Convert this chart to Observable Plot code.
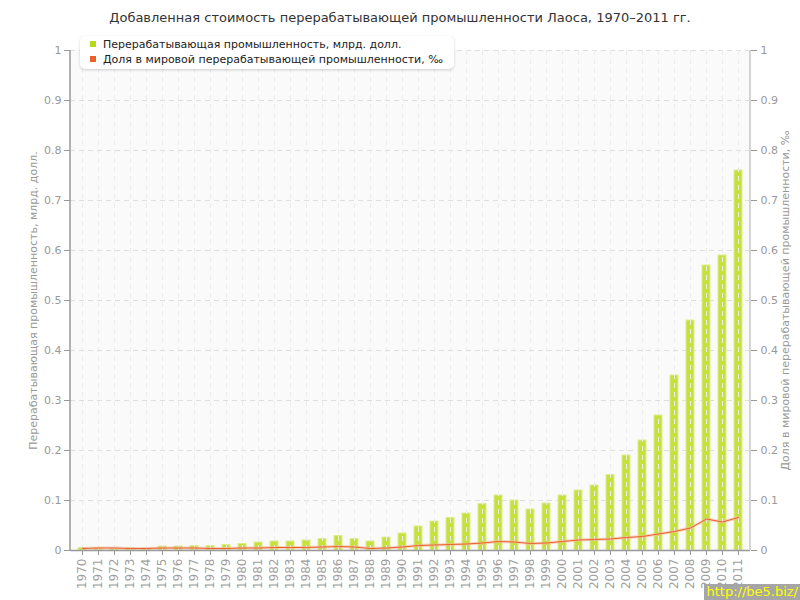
<!DOCTYPE html>
<html>
<head>
<meta charset="utf-8">
<script src="https://cdn.jsdelivr.net/npm/d3@7"></script>
<script src="https://cdn.jsdelivr.net/npm/@observablehq/plot@0.6"></script>
<style>
  html, body { margin: 0; padding: 0; background: #fff; }
  #wrap { position: relative; width: 800px; height: 600px; overflow: hidden; font-family: "DejaVu Sans", sans-serif; }
  #title { height: 36px; line-height: 36px; text-align: center; font-size: 13px; color: #333; }
  #legend { position: absolute; left: 80px; top: 36px; width: 374px; height: 33px; background: #fff;
    border-radius: 5px; box-shadow: 0 1px 3px rgba(0,0,0,0.18); font-size: 11px; color: #222; }
  #legend .item { position: absolute; left: 10px; white-space: nowrap; }
  #legend .sw { display: inline-block; width: 6px; height: 6px; margin-right: 7px; vertical-align: 1px; }
  #wm { position: absolute; right: 0; bottom: 0; background: #a6a6a6; color: #ffff00; font-size: 13px;
    padding: 0 2px; height: 16px; line-height: 16px; font-family: "DejaVu Sans", sans-serif; }
</style>
</head>
<body>
<div id="wrap">
  <div id="title">Добавленная стоимость перерабатывающей промышленности Лаоса, 1970–2011 гг.</div>
  <div id="chart"></div>
  <div id="legend">
    <div class="item" style="top:2px"><span class="sw" style="background:#b5d91f"></span>Перерабатывающая промышленность, млрд. долл.</div>
    <div class="item" style="top:17px"><span class="sw" style="background:#e8632c"></span>Доля в мировой перерабатывающей промышленности, ‰</div>
  </div>
  <div id="wm">http://be5.biz/</div>
</div>
<script>
const years = [1970,1971,1972,1973,1974,1975,1976,1977,1978,1979,1980,1981,1982,1983,1984,1985,1986,1987,1988,1989,1990,
  1991,1992,1993,1994,1995,1996,1997,1998,1999,2000,2001,2002,2003,2004,2005,2006,2007,2008,2009,2010,2011];
const valueBn = [0.005,0.005,0.004,0.005,0.004,0.008,0.008,0.009,0.009,0.011,0.013,0.016,0.018,0.018,0.02,0.023,0.029,0.023,0.018,0.026,0.034,
  0.048,0.058,0.065,0.074,0.093,0.11,0.10,0.082,0.094,0.11,0.12,0.13,0.151,0.19,0.22,0.27,0.35,0.46,0.57,0.59,0.76];
const sharePermille = [0.004,0.005,0.005,0.004,0.004,0.005,0.005,0.005,0.004,0.004,0.005,0.005,0.006,0.006,0.006,0.007,0.008,0.007,0.004,0.005,0.007,
  0.010,0.011,0.012,0.013,0.015,0.018,0.017,0.014,0.015,0.018,0.021,0.022,0.023,0.026,0.028,0.033,0.038,0.045,0.063,0.057,0.066];
const yTicks = [0,0.1,0.2,0.3,0.4,0.5,0.6,0.7,0.8,0.9,1];
const leftLabel = "Перерабатывающая промышленность, млрд. долл.";
const rightLabel = "Доля в мировой перерабатывающей промышленности, ‰";

const data = years.map((y, i) => ({year: String(y), value: valueBn[i], share: sharePermille[i]}));
const fmt = d => String(+d.toFixed(2));

const chart = Plot.plot({
  width: 800, height: 564,
  marginLeft: 70, marginRight: 50, marginTop: 14, marginBottom: 50,
  x: {type: "band", domain: years.map(String), paddingInner: 0.5, paddingOuter: 0.25},
  y: {domain: [0, 1]},
  style: {fontFamily: "DejaVu Sans, sans-serif", fontSize: "11px", color: "#999", background: "transparent"},
  marks: [
    Plot.frame({fill: "#fafafa", stroke: null}),
    Plot.gridY(yTicks, {stroke: "#dedede", strokeOpacity: 1, strokeDasharray: "5,4"}),
    Plot.barY(data, {x: "year", y: "value", fill: "#c6e03c", stroke: "#dcee8c", strokeWidth: 1}),
    Plot.gridX({stroke: "#ececec", strokeOpacity: 1, strokeDasharray: "5,4"}),
    Plot.line(data, {x: "year", y: "share", stroke: "#f6b89c", strokeWidth: 3, strokeOpacity: 0.6}),
    Plot.line(data, {x: "year", y: "share", stroke: "#e8632c", strokeWidth: 1}),
    Plot.axisY(yTicks, {anchor: "left", tickFormat: fmt, label: null, tickSize: 6, tickPadding: 3, stroke: "#999"}),
    Plot.axisY(yTicks, {anchor: "right", tickFormat: fmt, label: null, tickSize: 6, tickPadding: 4, stroke: "#999"}),
    Plot.axisX({tickRotate: -90, label: null, tickSize: 5, tickPadding: 3, fontSize: 12, stroke: "#999", fill: "#a0a0a0"}),
    Plot.ruleY([0], {stroke: "#999", strokeWidth: 1.5}),
    Plot.text([leftLabel], {frameAnchor: "left", textAnchor: "middle", dx: -37, rotate: -90, fill: "#999", fontSize: 11}),
    Plot.text([rightLabel], {frameAnchor: "right", textAnchor: "middle", dx: 35, rotate: -90, fill: "#999", fontSize: 11})
  ]
});
document.getElementById("chart").appendChild(chart);

// axis lines on both sides
const ys = chart.scale("y").range;
const xs = chart.scale("x").range;
const svg = d3.select(chart);
svg.append("line").attr("x1", xs[0]).attr("x2", xs[0]).attr("y1", ys[0]).attr("y2", ys[1])
  .attr("stroke", "#999").attr("stroke-width", 1.5);
svg.append("line").attr("x1", xs[1]).attr("x2", xs[1]).attr("y1", ys[0]).attr("y2", ys[1])
  .attr("stroke", "#d4d4d4").attr("stroke-width", 2);
</script>
</body>
</html>
